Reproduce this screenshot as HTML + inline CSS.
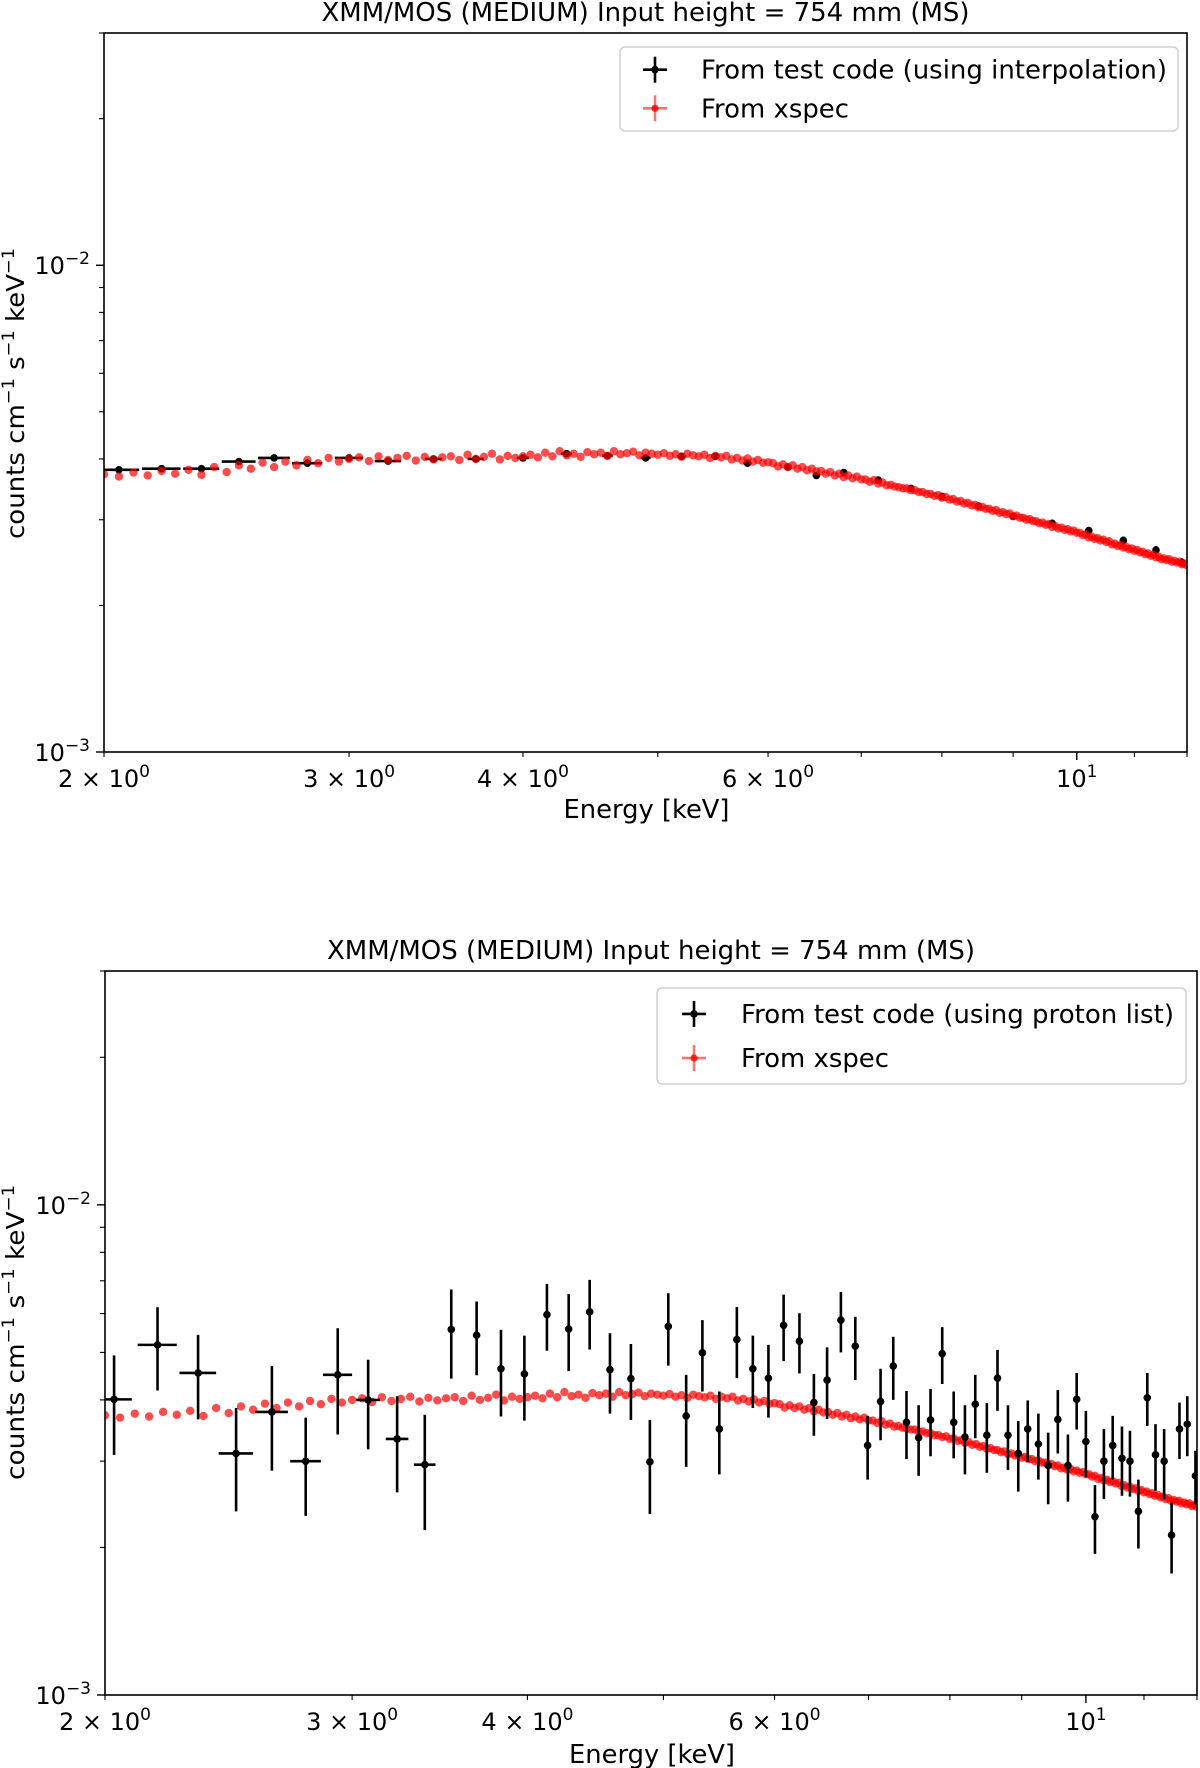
<!DOCTYPE html>
<html><head><meta charset="utf-8"><title>XMM/MOS spectra</title>
<style>
html,body{margin:0;padding:0;background:#fff;}
svg{display:block;font-family:"DejaVu Sans","Liberation Sans",sans-serif;}
</style></head>
<body>
<svg id="fig" width="1200" height="1768" viewBox="0 0 1200 1768" xmlns="http://www.w3.org/2000/svg"></svg>
<script>
// ---- data (counts in units of 1e-3 counts cm^-1 s^-1 keV^-1) ----
const unit = 1e-3;
const xspecEnergy = [
2.00,2.05,2.10,2.15,2.20,2.25,2.30,2.35,2.40,2.45,2.50,
2.55,2.60,2.65,2.70,2.75,2.80,2.85,2.90,2.95,3.00,
3.05,3.10,3.15,3.20,3.25,3.30,3.35,3.40,3.45,3.50,
3.55,3.60,3.65,3.70,3.75,3.80,3.85,3.90,3.95,4.00,
4.05,4.10,4.15,4.20,4.25,4.30,4.35,4.40,4.45,4.50,
4.55,4.60,4.65,4.70,4.75,4.80,4.85,4.90,4.95,5.00,
5.05,5.10,5.15,5.20,5.25,5.30,5.35,5.40,5.45,5.50,
5.55,5.60,5.65,5.70,5.75,5.80,5.85,5.90,5.95,6.00,
6.05,6.10,6.15,6.20,6.25,6.30,6.35,6.40,6.45,6.50,
6.55,6.60,6.65,6.70,6.75,6.80,6.85,6.90,6.95,7.00,
7.05,7.10,7.15,7.20,7.25,7.30,7.35,7.40,7.45,7.50,
7.55,7.60,7.65,7.70,7.75,7.80,7.85,7.90,7.95,8.00,
8.05,8.10,8.15,8.20,8.25,8.30,8.35,8.40,8.45,8.50,
8.55,8.60,8.65,8.70,8.75,8.80,8.85,8.90,8.95,9.00,
9.05,9.10,9.15,9.20,9.25,9.30,9.35,9.40,9.45,9.50,
9.55,9.60,9.65,9.70,9.75,9.80,9.85,9.90,9.95,10.00,
10.05,10.10,10.15,10.20,10.25,10.30,10.35,10.40,10.45,10.50,
10.55,10.60,10.65,10.70,10.75,10.80,10.85,10.90,10.95,11.00,
11.05,11.10,11.15,11.20,11.25,11.30,11.35,11.40,11.45,11.50,
11.55,11.60,11.65,11.70,11.75,11.80,11.85,11.90,11.95,12.00];
const xspecCounts = [
3.72,3.68,3.75,3.70,3.78,3.73,3.80,3.71,3.85,3.76,3.88,
3.82,3.93,3.85,3.95,3.88,3.98,3.92,4.02,3.95,4.00,
4.03,3.96,4.05,3.98,4.02,4.06,3.97,4.04,3.99,4.03,
4.05,3.98,4.08,4.00,4.04,4.10,3.99,4.06,4.02,4.05,
4.08,4.03,4.12,4.05,4.15,4.07,4.10,4.04,4.13,4.09,
4.12,4.06,4.15,4.09,4.11,4.14,4.07,4.12,4.10,4.08,
4.11,4.06,4.09,4.04,4.10,4.07,4.05,4.08,4.02,4.06,
4.03,4.06,3.99,4.02,3.97,4.01,3.95,3.98,3.93,3.94,
3.92,3.86,3.90,3.85,3.88,3.82,3.85,3.79,3.82,3.77,
3.78,3.73,3.76,3.70,3.73,3.67,3.70,3.65,3.68,3.63,
3.63,3.59,3.62,3.56,3.58,3.53,3.54,3.51,3.50,3.48,
3.48,3.45,3.45,3.42,3.42,3.39,3.39,3.36,3.37,3.33,
3.34,3.30,3.31,3.27,3.28,3.24,3.25,3.21,3.22,3.18,
3.19,3.16,3.16,3.13,3.14,3.10,3.11,3.08,3.09,3.05,
3.06,3.03,3.03,3.00,3.01,2.98,2.98,2.95,2.96,2.93,
2.94,2.90,2.91,2.88,2.89,2.86,2.87,2.84,2.85,2.82,
2.82,2.79,2.80,2.76,2.77,2.74,2.75,2.72,2.73,2.70,
2.71,2.67,2.68,2.65,2.66,2.63,2.64,2.61,2.62,2.59,
2.60,2.57,2.58,2.55,2.56,2.53,2.54,2.51,2.52,2.49,
2.50,2.48,2.49,2.46,2.47,2.45,2.46,2.43,2.44,2.42];

// top panel: test code (interpolation)
const interpEnergy = [2.05,2.20,2.35,2.50,2.65,2.80,3.00,3.20,3.45,3.70,4.00,4.30,4.60,4.90,5.20,5.50,5.80,6.20,6.50,6.80,7.20,7.60,8.00,8.50,9.00,9.60,10.20,10.80,11.40,11.90];
const interpCounts = [3.80,3.82,3.82,3.95,4.02,3.92,4.02,3.96,4.00,4.00,4.02,4.10,4.06,4.02,4.05,4.05,3.92,3.85,3.70,3.75,3.62,3.48,3.35,3.20,3.05,2.95,2.85,2.72,2.60,2.45];
const interpXerr = [0.07,0.07,0.07,0.07,0.07,0.07,0.07,0.07,0.05,0.05,0.04,0.04,0.04,0.04,0.04,0.04,0.04,0.04,0.04,0.04,0.04,0.04,0.04,0.04,0.04,0.04,0.04,0.04,0.04,0.04];
const interpYerr = [0.05,0.05,0.05,0.05,0.05,0.05,0.05,0.05,0.05,0.05,0.05,0.05,0.05,0.05,0.05,0.05,0.05,0.05,0.05,0.05,0.05,0.05,0.05,0.05,0.05,0.05,0.05,0.05,0.05,0.05];

// bottom panel: test code (proton list)
const protonEnergy = [2.03,2.18,2.33,2.48,2.63,2.78,2.93,3.08,3.23,3.38,3.53,3.68,3.83,3.98,4.13,4.28,4.43,4.58,4.74,4.89,5.04,5.19,5.33,5.48,5.64,5.79,5.94,6.09,6.25,6.40,6.54,6.69,6.85,6.99,7.14,7.29,7.45,7.60,7.75,7.90,8.05,8.20,8.34,8.50,8.65,8.80,8.95,9.09,9.25,9.40,9.55,9.71,9.85,10.00,10.15,10.30,10.45,10.61,10.75,10.90,11.06,11.21,11.37,11.51,11.66,11.81,11.97];
const protonCounts = [4.01,5.18,4.54,3.11,3.78,3.00,4.50,4.00,3.33,2.95,5.57,5.42,4.63,4.52,5.97,5.58,6.05,4.61,4.42,2.99,5.65,3.71,4.99,3.49,5.31,4.63,4.43,5.68,5.27,3.95,4.39,5.82,5.15,3.23,3.97,4.69,3.60,3.35,3.64,4.97,3.60,3.36,3.92,3.39,4.43,3.39,3.11,3.49,3.25,2.94,3.65,2.94,4.01,3.29,2.31,3.00,3.23,3.04,3.00,2.37,4.04,3.09,3.00,2.12,3.49,3.57,2.80];
const protonYerr = [0.92,1.00,0.89,0.74,0.91,0.68,1.10,0.83,0.74,0.78,1.15,0.93,0.93,0.89,0.93,1.00,0.98,0.86,0.78,0.65,0.95,0.79,0.83,0.67,0.88,0.78,0.75,0.88,0.74,0.57,0.73,0.82,0.76,0.48,0.66,0.69,0.57,0.55,0.57,0.66,0.56,0.54,0.58,0.55,0.63,0.51,0.51,0.50,0.50,0.49,0.54,0.46,0.53,0.51,0.37,0.49,0.48,0.49,0.46,0.38,0.50,0.48,0.49,0.35,0.46,0.50,0.35];
const protonXerr = [0.06,0.07,0.07,0.07,0.07,0.07,0.07,0.06,0.06,0.06,0,0,0,0,0,0,0,0,0,0,0,0,0,0,0,0,0,0,0,0,0,0,0,0,0,0,0,0,0,0,0,0,0,0,0,0,0,0,0,0,0,0,0,0,0,0,0,0,0,0,0,0,0,0,0,0,0];

const xTickValues = [2,3,4,5,6,7,8,9,10,11,12];
const xTickLabels = ["2","3","4","","6","","","","10","",""];
const yMajorValues = [1e-3,1e-2];
const yMajorExp = ["\u22123","\u22122"];
const yMinorValues = [2e-3,3e-3,4e-3,5e-3,6e-3,7e-3,8e-3,9e-3,2e-2,3e-2];

const NS = "http://www.w3.org/2000/svg";
const fig = document.getElementById('fig');
function mk(tag, attrs, parent){
  const e = document.createElementNS(NS, tag);
  for (const k in attrs) e.setAttribute(k, attrs[k]);
  (parent||fig).appendChild(e);
  return e;
}

function drawPanel(p){
  const g = mk('g', {});
  
  
  const xmin=2, xmax=12, ymin=1e-3, ymax=3e-2;
  const X = v => p.L + (Math.log10(v)-Math.log10(xmin))/(Math.log10(xmax)-Math.log10(xmin))*(p.R-p.L);
  const Y = v => p.B - (Math.log10(v)-Math.log10(ymin))/(Math.log10(ymax)-Math.log10(ymin))*(p.B-p.T);

  const clipId = p.name + '-clip';
  const defs = mk('defs', {}, g);
  const cp = mk('clipPath', {id: clipId}, defs);
  mk('rect', {x:p.L, y:p.T, width:p.R-p.L, height:p.B-p.T}, cp);

  const t = mk('text', {x:(p.L+p.R)/2, y:p.T-12, 'text-anchor':'middle', 'font-size':26, fill:'#000', textLength:648, lengthAdjust:'spacingAndGlyphs'}, g);
  t.textContent = 'XMM/MOS (MEDIUM) Input height = 754 mm (MS)';
  
  

  const dg = mk('g', {'clip-path':'url(#'+clipId+')'}, g);
  const blk = mk('g', {}, dg);
  
  
  for (let i=0;i<p.E.length;i++){
    const e=p.E[i], v=p.V[i]*unit, ye=p.YE[i]*unit, xe=p.XE[i];
    const pg = mk('g', {}, blk);
    
    
    mk('line', {x1:X(e), x2:X(e), y1:Y(v+ye), y2:Y(Math.max(v-ye,1e-6)), stroke:'#000', 'stroke-width':2.6}, pg);
    if (xe>0) mk('line', {x1:X(e-xe), x2:X(e+xe), y1:Y(v), y2:Y(v), stroke:'#000', 'stroke-width':2.6}, pg);
    mk('circle', {cx:X(e), cy:Y(v), r:3.8, fill:'#000'}, pg);
  }
  const red = mk('g', {}, dg);
  
  
  for (let i=0;i<xspecEnergy.length;i++){
    const c = mk('circle', {cx:X(xspecEnergy[i]), cy:Y(xspecCounts[i]*unit), r:4.2, fill:'#ff0000', 'fill-opacity':0.7}, red);
    
    
  }
  if (p.blackOnTop) dg.appendChild(blk);

  const fr = mk('rect', {x:p.L, y:p.T, width:p.R-p.L, height:p.B-p.T, fill:'none', stroke:'#000', 'stroke-width':1.6}, g);
  
  

  const xa = mk('g', {}, g);
  
  
  for (let i=0;i<xTickValues.length;i++){
    const v=xTickValues[i], x=X(v);
    const major = v===10;
    mk('line', {x1:x, x2:x, y1:p.B, y2:p.B+(major?8:5), stroke:'#000', 'stroke-width':major?1.4:1.1}, xa);
    const lab = xTickLabels[i];
    if (lab){
      const tx = mk('text', {x:x, y:p.B+35, 'text-anchor':'middle', 'font-size':24, fill:'#000'}, xa);
      
      
      if (lab==='10'){
        tx.innerHTML = '10<tspan dy="-10" font-size="17">1</tspan>';
      } else {
        tx.innerHTML = lab + ' \u00d7 10<tspan dy="-10" font-size="17">0</tspan>';
      }
    }
  }
  const xl = mk('text', {x:(p.L+p.R)/2+1, y:p.xlabY, 'text-anchor':'middle', 'font-size':26, fill:'#000', textLength:166, lengthAdjust:'spacingAndGlyphs'}, g);
  xl.textContent = 'Energy [keV]';
  
  

  const ya = mk('g', {}, g);
  
  
  for (let i=0;i<yMajorValues.length;i++){
    const y=Y(yMajorValues[i]);
    mk('line', {x1:p.L-8, x2:p.L, y1:y, y2:y, stroke:'#000', 'stroke-width':1.4}, ya);
    const ty = mk('text', {x:p.L-14, y:y+9, 'text-anchor':'end', 'font-size':24, fill:'#000'}, ya);
    
    
    ty.innerHTML = '10<tspan dy="-10" font-size="17">' + yMajorExp[i] + '</tspan>';
  }
  for (let i=0;i<yMinorValues.length;i++){
    const y=Y(yMinorValues[i]);
    mk('line', {x1:p.L-5, x2:p.L, y1:y, y2:y, stroke:'#000', 'stroke-width':1.1}, ya);
  }
  const cy = (p.ylabTop+p.ylabBot)/2;
  const yl = mk('text', {x:0, y:0, transform:'translate(24,'+cy+') rotate(-90)', 'text-anchor':'middle', 'font-size':25, fill:'#000', textLength:p.ylabBot-p.ylabTop, lengthAdjust:'spacingAndGlyphs'}, g);
  yl.innerHTML = 'counts cm<tspan dy="-10" font-size="17">\u22121</tspan><tspan dy="10"> s</tspan><tspan dy="-10" font-size="17">\u22121</tspan><tspan dy="10"> keV</tspan><tspan dy="-10" font-size="17">\u22121</tspan>';
  
  

  const lg = mk('g', {}, g);
  
  
  mk('rect', {x:p.lx, y:p.ly, width:p.lw, height:p.lh, rx:5, fill:'#fff', 'fill-opacity':0.85, stroke:'#d0d0d0', 'stroke-width':1.5}, lg);
  const r1 = p.ly + p.lh*0.27, r2 = p.ly + p.lh*0.73;
  const e1 = mk('g', {}, lg);
  
  
  mk('line', {x1:p.mx-12, x2:p.mx+12, y1:r1, y2:r1, stroke:'#000', 'stroke-width':2.6}, e1);
  mk('line', {x1:p.mx, x2:p.mx, y1:r1-13, y2:r1+13, stroke:'#000', 'stroke-width':2.6}, e1);
  mk('circle', {cx:p.mx, cy:r1, r:3.8, fill:'#000'}, e1);
  const lt1 = mk('text', {x:p.tx, y:r1+9, 'font-size':26, fill:'#000', textLength:p.tw, lengthAdjust:'spacingAndGlyphs'}, e1);
  lt1.textContent = p.label;
  const e2 = mk('g', {}, lg);
  
  
  mk('line', {x1:p.mx-12, x2:p.mx+12, y1:r2, y2:r2, stroke:'#ff0000', 'stroke-opacity':0.55, 'stroke-width':2.6}, e2);
  mk('line', {x1:p.mx, x2:p.mx, y1:r2-13, y2:r2+13, stroke:'#ff0000', 'stroke-opacity':0.55, 'stroke-width':2.6}, e2);
  mk('circle', {cx:p.mx, cy:r2, r:3.6, fill:'#ff0000', 'fill-opacity':0.8}, e2);
  const lt2 = mk('text', {x:p.tx, y:r2+9, 'font-size':26, fill:'#000', textLength:148, lengthAdjust:'spacingAndGlyphs'}, e2);
  lt2.textContent = 'From xspec';
}

drawPanel({name:'top-panel', L:104, R:1187, T:33, B:752, xlabY:818, ylabTop:248, ylabBot:539,
  E:interpEnergy, V:interpCounts, XE:interpXerr, YE:interpYerr, blackOnTop:false,
  lx:620, ly:47, lw:558, lh:84, mx:655, tx:701, tw:466, label:'From test code (using interpolation)'});
drawPanel({name:'bottom-panel', L:105, R:1197, T:971, B:1695, xlabY:1763, ylabTop:1185, ylabBot:1480,
  E:protonEnergy, V:protonCounts, XE:protonXerr, YE:protonYerr, blackOnTop:true,
  lx:657, ly:988, lw:529, lh:96, mx:694, tx:741, tw:433, label:'From test code (using proton list)'});
</script>
</body></html>
